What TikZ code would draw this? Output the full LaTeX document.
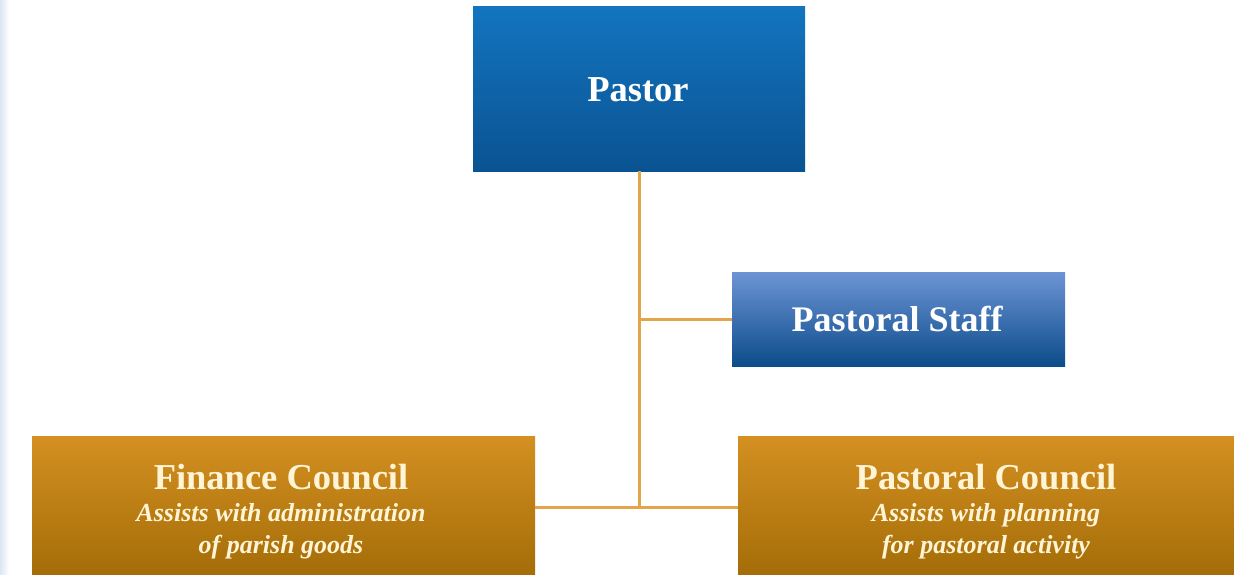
\documentclass[tikz,border=0pt]{standalone}
\usepackage{fontspec}
\setmainfont{Liberation Serif}
\definecolor{bluetop}{HTML}{1374BF}
\definecolor{bluebot}{HTML}{0A5392}
\definecolor{stafftop}{HTML}{6C94D5}
\definecolor{staffbot}{HTML}{0D4C8A}
\definecolor{goldtop}{HTML}{D49021}
\definecolor{goldbot}{HTML}{A46D08}
\definecolor{linkc}{HTML}{E2A54A}
\definecolor{cream}{HTML}{FFF4D6}
\definecolor{stripc}{HTML}{DCE6F2}
\newcommand\subtxtfont{\fontsize{26}{33}\selectfont\bfseries\itshape}
\begin{document}
\begin{tikzpicture}[x=1pt,y=-1pt,
  bluebox/.style={rectangle,inner sep=0pt,top color=bluetop,bottom color=bluebot},
  staffbox/.style={rectangle,inner sep=0pt,top color=stafftop,bottom color=staffbot},
  goldbox/.style={rectangle,inner sep=0pt,top color=goldtop,bottom color=goldbot},
  boxtext/.style={text=white,anchor=base,inner sep=0pt,font=\fontsize{36.5}{40}\selectfont\bfseries},
  goldtext/.style={text=cream,anchor=base,inner sep=0pt,font=\fontsize{36.5}{36}\selectfont\bfseries},
  goldsub/.style={goldtext,font=\subtxtfont},
  link/.style={draw=linkc,line width=3pt}]
\useasboundingbox (0,0) rectangle (1234,575);
\fill[white] (0,0) rectangle (1234,575);
\shade[left color=stripc,right color=white] (0,0) rectangle (9,575);
\node[bluebox,minimum width=332pt,minimum height=164pt] (pastor) at (639,89) {};
\node[staffbox,minimum width=333pt,minimum height=94pt] (staff) at (898.5,319) {};
\node[goldbox,minimum width=503pt,minimum height=139pt] (fin) at (283.5,505.5) {};
\node[goldbox,minimum width=496pt,minimum height=139pt] (pc) at (986,505.5) {};
\node[boxtext] (pastort) at (638,102) {Pastor};
\node[boxtext,font=\fontsize{36}{40}\selectfont\bfseries] (stafft) at (897,331) {Pastoral Staff};
\node[goldtext] (fint) at (281,489) {Finance Council};
\node[goldsub] (fins1) at (281,521) {Assists with administration};
\node[goldsub] (fins2) at (281,553) {of parish goods};
\node[goldtext] (pct) at (986,489) {Pastoral Council};
\node[goldsub] (pcs1) at (986,521) {Assists with planning};
\node[goldsub] (pcs2) at (986,553) {for pastoral activity};
\coordinate (j) at (pastor.south |- 0,507);
\coordinate (k) at (pastor.south |- staff.west);
\draw[link] (pastor.south) -- (j);
\draw[link] (k) -- (staff.west);
\draw[link] (fin.east |- j) -- (pc.west |- j);
\end{tikzpicture}
\end{document}
